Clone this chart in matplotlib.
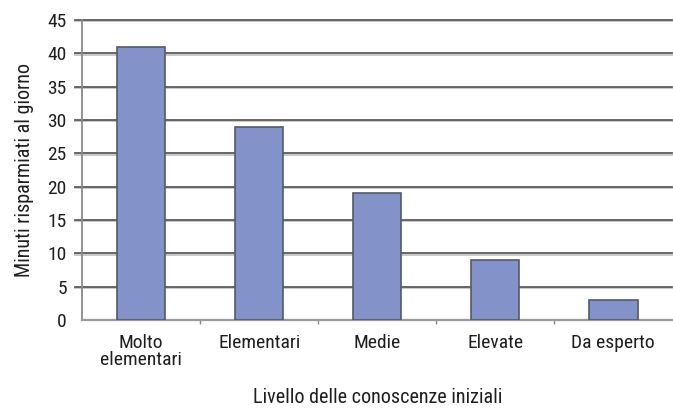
import matplotlib
matplotlib.use("Agg")
import matplotlib.pyplot as plt
import matplotlib.transforms as mtransforms

categories = ["Molto\nelementari", "Elementari", "Medie", "Elevate", "Da esperto"]
minutes = [41, 29, 19, 9, 3]
yticks = [0, 5, 10, 15, 20, 25, 30, 35, 40, 45]

plt.rcParams["font.family"] = ["Roboto Condensed", "Liberation Sans", "DejaVu Sans"]

fig = plt.figure(figsize=(6.73, 4.08), dpi=100)
ax = fig.add_axes([0.122, 0.216, 0.877, 0.735])

x = list(range(len(categories)))
ax.set_xlim(-0.5, len(categories) - 0.5)
ax.set_ylim(0, 45)

# horizontal gridlines with a faint shadow just below
shadow = mtransforms.offset_copy(ax.get_yaxis_transform(), fig=fig, x=0, y=-1.5, units="dots")
for v in yticks[1:]:
    ax.plot([-0.012, 1], [v, v], transform=shadow, color="#c8c8c8", lw=1.4, zorder=1, clip_on=False)
    ax.plot([-0.012, 1], [v, v], transform=ax.get_yaxis_transform(), color="#5c5c5c", lw=1.3,
            zorder=1.1, clip_on=False)

ax.bar(x, minutes, width=0.41, color="#8392c9", edgecolor="#555a66", linewidth=1.2, zorder=3)

ax.set_yticks(yticks)
ax.set_yticklabels([str(v) for v in yticks])
ax.set_xticks(x)
ax.set_xticklabels(categories, linespacing=0.98)
ax.set_xticks([i + 0.5 for i in x[:-1]], minor=True)

ax.tick_params(axis="y", length=0, pad=11, labelsize=14, colors="#1e1e1e")
ax.tick_params(axis="x", which="major", length=0, pad=10, labelsize=14, colors="#1e1e1e")
ax.tick_params(axis="x", which="minor", length=3, color="#888888", width=1)

for s in ("top", "right"):
    ax.spines[s].set_visible(False)
ax.spines["left"].set_color("#8a8a8a")
ax.spines["left"].set_linewidth(1.3)
ax.spines["bottom"].set_color("#9a9a9a")
ax.spines["bottom"].set_linewidth(1.6)

ax.set_ylabel("Minuti risparmiati al giorno", fontsize=14.5, color="#1e1e1e", labelpad=10)
ax.set_xlabel("Livello delle conoscenze iniziali", fontsize=14.5, color="#1e1e1e", labelpad=13)

fig.savefig("out.png", dpi=100)
